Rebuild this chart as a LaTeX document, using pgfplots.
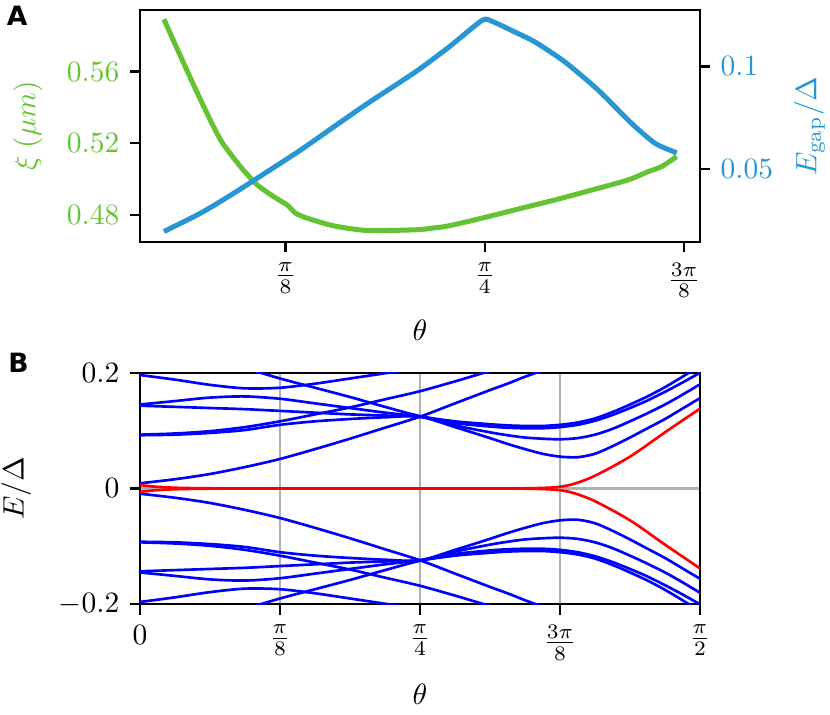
\documentclass[border=0pt]{standalone}
\usepackage{fontspec}
\newfontfamily\panelfont{DejaVu Sans}
\usepackage{pgfplots}
\pgfplotsset{compat=1.18}
\usepackage{pgfplotstable}
\definecolor{cgreen}{RGB}{100,195,50}
\definecolor{cblue}{RGB}{40,150,210}
\definecolor{cgrid}{RGB}{176,176,176}

\pgfplotstableread{
u xi
0.390 0.5892
0.474 0.5684
0.574 0.5442
0.674 0.5219
0.774 0.5070
0.858 0.4968
0.941 0.4902
1.008 0.4856
1.050 0.4810
1.109 0.4782
1.242 0.4739
1.410 0.4713
1.652 0.4717
1.735 0.4726
1.819 0.4739
1.986 0.4782
2.186 0.4838
2.353 0.4884
2.554 0.4944
2.721 0.4996
2.821 0.5042
2.888 0.5070
2.963 0.5126
}\tabxi

\pgfplotstableread{
u eg
0.390 0.0198
0.574 0.0287
0.741 0.0384
0.908 0.0488
1.075 0.0593
1.242 0.0706
1.410 0.0819
1.652 0.0973
1.819 0.1093
1.986 0.1223
2.036 0.1219
2.153 0.1166
2.253 0.1118
2.403 0.1021
2.570 0.0884
2.737 0.0723
2.855 0.0626
2.963 0.0580
}\tabeg

\pgfplotstableread{
u     c1    c2    c3    c4    c5    c6    c7
0.000 0.009 0.093 0.092 0.143 0.145 0.260 0.196
0.250 0.016 0.095 0.093 0.141 0.151 0.243 0.188
0.500 0.025 0.099 0.096 0.139 0.157 0.226 0.179
0.750 0.037 0.106 0.101 0.137 0.159 0.208 0.173
1.000 0.051 0.116 0.110 0.134 0.155 0.190 0.174
1.250 0.068 0.128 0.116 0.131 0.147 0.174 0.181
1.500 0.086 0.140 0.120 0.128 0.139 0.158 0.190
1.750 0.105 0.154 0.123 0.126 0.131 0.141 0.199
2.000 0.124 0.168 0.124 0.124 0.124 0.125 0.208
2.250 0.147 0.185 0.106 0.109 0.113 0.116 0.218
2.500 0.170 0.203 0.087 0.097 0.107 0.111 0.228
2.625 0.181 0.212 0.077 0.092 0.105 0.109 0.233
2.750 0.193 0.221 0.068 0.088 0.104 0.108 0.238
2.875 0.204 0.230 0.060 0.086 0.104 0.108 0.243
3.000 0.216 0.240 0.055 0.085 0.106 0.110 0.248
3.125 0.227 0.250 0.054 0.087 0.110 0.114 0.253
3.250 0.239 0.260 0.060 0.093 0.117 0.121 0.258
3.375 0.250 0.270 0.073 0.103 0.127 0.132 0.263
3.500 0.262 0.280 0.088 0.116 0.139 0.145 0.268
3.625 0.273 0.290 0.104 0.130 0.152 0.159 0.273
3.750 0.285 0.300 0.120 0.145 0.167 0.175 0.278
3.875 0.297 0.310 0.138 0.162 0.183 0.193 0.283
4.000 0.310 0.320 0.156 0.180 0.200 0.212 0.288
}\tabB

\pgfplotstableread{
u r
0.00 0.0060
0.05 0.0045
0.10 0.0033
0.20 0.0018
0.30 0.0010
0.50 0.0003
1.00 0.0000
2.00 0.0000
2.50 0.0000
2.75 0.0003
2.90 0.0012
3.00 0.0030
3.10 0.0080
3.25 0.0220
3.50 0.0550
3.75 0.0970
4.00 0.1380
}\tabred

\pgfplotsset{
  mystyle/.style={
    scale only axis,
    width=189.84pt,
    axis line style={line width=0.8pt},
    every tick/.style={line width=0.8pt, black},
    major tick length=3.5pt,
    tick align=outside,
  }
}

\begin{document}
\begin{tikzpicture}
\useasboundingbox (0,0) rectangle (281.37pt,242.385pt);

% Panel A, left axis
\begin{axis}[mystyle,
  at={(47.46pt,160.35pt)}, anchor=south west, height=78.65pt,
  xmin=0.27, xmax=3.08, ymin=0.4649, ymax=0.5944,
  xtick={1,2,3}, xticklabels={$\frac{\pi}{8}$,$\frac{\pi}{4}$,$\frac{3\pi}{8}$},
  xtick pos=bottom, ytick pos=left,
  ytick={0.48,0.52,0.56}, yticklabels={$0.48$,$0.52$,$0.56$},
  yticklabel style={text=cgreen},
  xlabel={$\theta$}, ylabel={$\xi\;(\mu m)$},
  xlabel style={at={(axis description cs:0.5,-0.38)}, anchor=center},
  ylabel style={at={(axis description cs:-0.2,0.5)}, anchor=center, text=cgreen},
]
\addplot[cgreen, line width=1.7pt, smooth, tension=0.4] table[x=u,y=xi]{\tabxi};
\end{axis}

% Panel A, right axis
\begin{axis}[mystyle,
  at={(47.46pt,160.35pt)}, anchor=south west, height=78.65pt,
  xmin=0.27, xmax=3.08, ymin=0.0147, ymax=0.1274,
  hide x axis,
  ytick pos=right, yticklabel pos=right,
  ytick={0.05,0.1}, yticklabels={$0.05$,$0.1$},
  yticklabel style={text=cblue},
  ylabel={$E_{\mathrm{gap}}/\Delta$},
  ylabel style={at={(axis description cs:1.196,0.5)}, anchor=center, text=cblue},
]
\addplot[cblue, line width=1.7pt, smooth, tension=0.4] table[x=u,y=eg]{\tabeg};
\end{axis}

% Panel B
\begin{axis}[mystyle,
  at={(47.46pt,37.53pt)}, anchor=south west, height=78.51pt,
  xmin=0, xmax=4, ymin=-0.2, ymax=0.2,
  xtick={0,1,2,3,4},
  xticklabels={$0$,$\frac{\pi}{8}$,$\frac{\pi}{4}$,$\frac{3\pi}{8}$,$\frac{\pi}{2}$},
  ytick={-0.2,0,0.2}, yticklabels={$-0.2$,$0$,$0.2$},
  xtick pos=bottom, ytick pos=left,
  grid=major, grid style={color=cgrid, line width=0.8pt},
  xlabel={$\theta$}, ylabel={$E/\Delta$},
  xlabel style={at={(axis description cs:0.5,-0.387)}, anchor=center},
  ylabel style={at={(axis description cs:-0.221,0.5)}, anchor=center},
]
\pgfplotsinvokeforeach{c1,c2,c3,c4,c5,c6,c7}{
  \addplot[blue, line width=0.9pt, smooth, tension=0.5] table[x=u,y=#1]{\tabB};
  \addplot[blue, line width=0.9pt, smooth, tension=0.5] table[x=u,y expr=-\thisrow{#1}]{\tabB};
}
\addplot[red, line width=0.9pt, smooth] table[x=u,y=r]{\tabred};
\addplot[red, line width=0.9pt, smooth] table[x=u,y expr=-\thisrow{r}]{\tabred};
\end{axis}

\node[anchor=base west, inner sep=0pt, font={\panelfont\bfseries\fontsize{9pt}{11pt}\selectfont}] at (2.1pt,233.9pt) {A};
\node[anchor=base west, inner sep=0pt, font={\panelfont\bfseries\fontsize{9pt}{11pt}\selectfont}] at (2.6pt,116.1pt) {B};
\end{tikzpicture}
\end{document}
